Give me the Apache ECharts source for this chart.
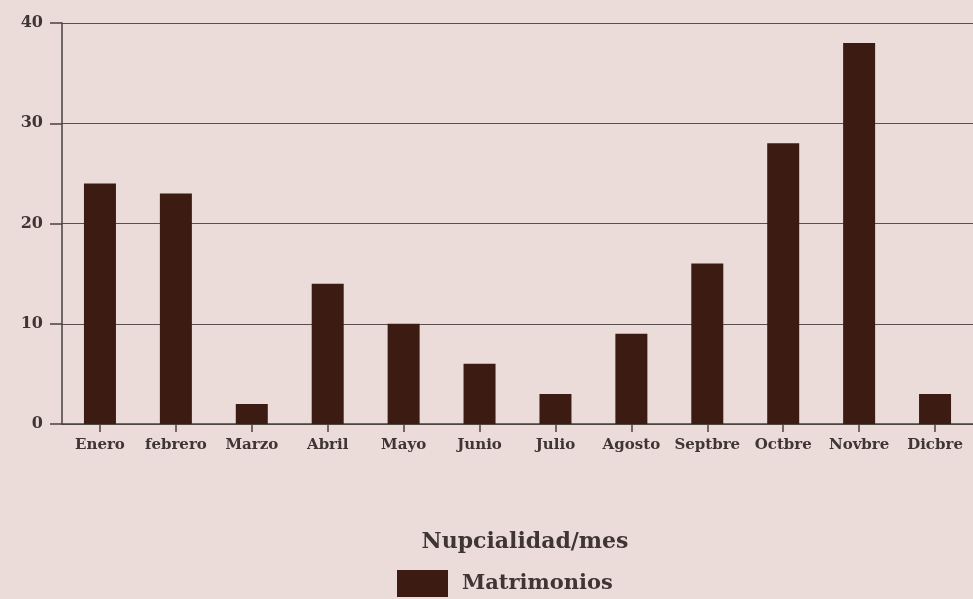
<!DOCTYPE html>
<html><head><meta charset="utf-8">
<script src="https://cdn.jsdelivr.net/npm/echarts@6/dist/echarts.min.js"></script>
<style>html,body{margin:0;padding:0;background:#ecdcd9;}#c{width:973px;height:599px;}</style>
</head><body><div id="c"></div>
<script>
const categories = ['Enero','febrero','Marzo','Abril','Mayo','Junio','Julio','Agosto','Septbre','Octbre','Novbre','Dicbre'];
const matrimonios = [24, 23, 2, 14, 10, 6, 3, 9, 16, 28, 38, 3];
const yTicks = [0, 10, 20, 30, 40];
const seriesName = 'Matrimonios';
const chartTitle = 'Nupcialidad/mes';

const font = 'DejaVu Serif';
const txt = '#3f3533';
const chart = echarts.init(document.getElementById('c'));
chart.setOption({
  backgroundColor: '#ecdcd9',
  animation: false,
  title: {
    text: chartTitle, left: 520, top: 526, textAlign: 'center',
    textStyle: {fontFamily: font, fontSize: 22, fontWeight: 'bold', color: txt}
  },
  legend: {
    data: [seriesName], left: 397, top: 570, itemWidth: 51, itemHeight: 27, itemGap: 8,
    icon: 'rect', padding: 0,
    textStyle: {fontFamily: font, fontSize: 21, fontWeight: 'bold', color: txt, padding: [4, 0, 0, 9]}
  },
  grid: {left: 62, top: 23, width: 919, height: 401, containLabel: false},
  xAxis: {
    type: 'category', data: categories,
    axisLine: {show: true, lineStyle: {color: '#4a4040', width: 1.5}},
    axisTick: {show: true, interval: 0, alignWithLabel: true, length: 8, lineStyle: {color: '#4a4040', width: 1.5}},
    axisLabel: {interval: 0, margin: 14, fontFamily: font, fontSize: 15, fontWeight: 'bold', color: txt},
    splitLine: {show: false}
  },
  yAxis: {
    type: 'value', min: yTicks[0], max: yTicks[yTicks.length-1], interval: 10,
    axisLine: {show: true, lineStyle: {color: '#4a4040', width: 1.5}},
    axisTick: {show: true, length: 12, lineStyle: {color: '#4a4040', width: 1.5}},
    axisLabel: {margin: 19, fontFamily: font, fontSize: 16, fontWeight: 'bold', color: txt},
    splitLine: {show: true, lineStyle: {color: '#5a5050', width: 1.2}}
  },
  series: [{
    name: seriesName, type: 'bar', data: matrimonios, barWidth: 32,
    itemStyle: {color: '#3c1b12'}
  }]
});
</script></body></html>
